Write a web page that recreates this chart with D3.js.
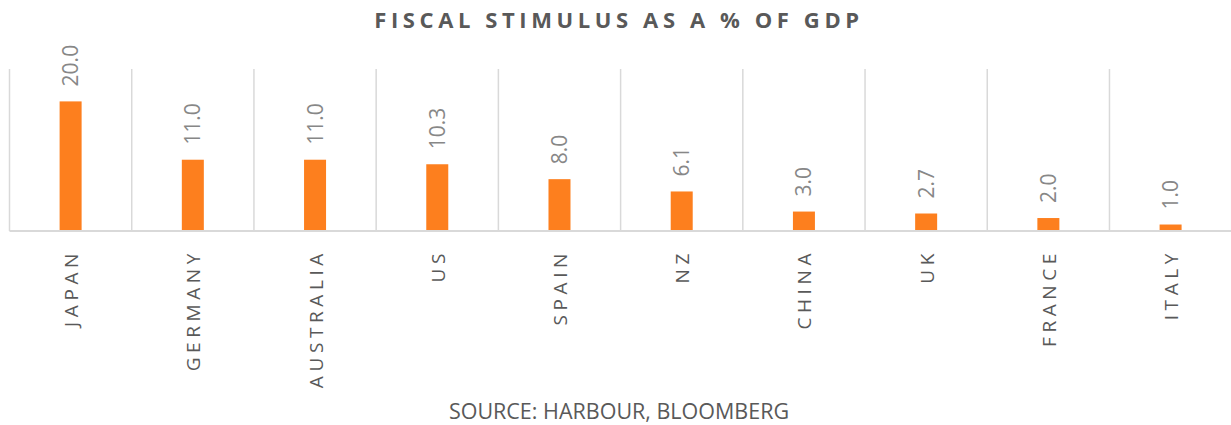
<!DOCTYPE html>
<html>
<head>
<meta charset="utf-8">
<script src="https://cdn.jsdelivr.net/npm/d3@7"></script>
<style>
  body { margin: 0; background: #fff; }
  svg { display: block; }
</style>
</head>
<body>
<svg id="chart"></svg>
<script>
// Chart data
const countries = ["JAPAN", "GERMANY", "AUSTRALIA", "US", "SPAIN", "NZ", "CHINA", "UK", "FRANCE", "ITALY"];
const stimulus = [20.0, 11.0, 11.0, 10.3, 8.0, 6.1, 3.0, 2.7, 2.0, 1.0];
const titleText = "FISCAL STIMULUS AS A % OF GDP";
const sourceText = "SOURCE: HARBOUR, BLOOMBERG";

const data = countries.map((c, i) => ({ country: c, value: stimulus[i] }));

// Set up SVG dimensions
const width = 1231;
const height = 425;
const plot = { left: 9.5, right: 1231.7, top: 69, bottom: 231 };

const svg = d3.select("#chart")
    .attr("width", width)
    .attr("height", height);

// X scale (countries)
const x = d3.scaleBand()
    .domain(countries)
    .range([plot.left, plot.right])
    .padding(0);

// Y scale (% of GDP)
const y = d3.scaleLinear()
    .domain([0, 25])
    .range([plot.bottom, plot.top]);

const barWidth = 22;

// Vertical gridlines between categories
const edges = countries.map(c => x(c)).concat([x.range()[1]]);
svg.append("g")
    .selectAll("line")
    .data(edges)
    .enter().append("line")
    .attr("x1", d => d)
    .attr("x2", d => d)
    .attr("y1", y(25))
    .attr("y2", y(0))
    .attr("stroke", "#d9d9d9")
    .attr("stroke-width", 1.5);

// Bars
svg.append("g")
    .selectAll("rect")
    .data(data)
    .enter().append("rect")
    .attr("x", d => x(d.country) + x.bandwidth() / 2 - barWidth / 2)
    .attr("y", d => y(d.value))
    .attr("width", barWidth)
    .attr("height", d => y(0) - y(d.value))
    .attr("fill", "#fd7f1e");

// Baseline (category axis)
const xAxis = svg.append("g")
    .attr("transform", "translate(0," + y(0) + ")")
    .call(d3.axisBottom(x).tickSize(0).tickPadding(0));
xAxis.select(".domain")
    .attr("d", "M" + x.range()[0] + ",0H" + width)
    .attr("stroke", "#d9d9d9")
    .attr("stroke-width", 2);
xAxis.selectAll(".tick text")
    .attr("transform", "translate(7.5,18) rotate(-90)")
    .attr("x", 0)
    .attr("y", 0)
    .attr("dy", 0)
    .attr("text-anchor", "end")
    .style("font-family", "'Open Sans', sans-serif")
    .style("font-size", "19px")
    .style("letter-spacing", "4.6px")
    .attr("fill", "#595959");

// Value labels
svg.append("g")
    .selectAll("text")
    .data(data)
    .enter().append("text")
    .attr("transform", d => "translate(" + (x(d.country) + x.bandwidth() / 2 + 7.5) + "," + (y(d.value) - 15) + ") rotate(-90)")
    .attr("text-anchor", "start")
    .style("font-family", "'Open Sans', sans-serif")
    .style("font-size", "21px")
    .attr("fill", "#878787")
    .text(d => d.value.toFixed(1));

// Title
svg.append("text")
    .attr("x", 619)
    .attr("y", 28)
    .attr("text-anchor", "middle")
    .style("font-family", "'Open Sans', sans-serif")
    .style("font-size", "22px")
    .style("font-weight", "bold")
    .style("letter-spacing", "4.6px")
    .attr("fill", "#595959")
    .text(titleText);

// Source note
svg.append("text")
    .attr("x", 619)
    .attr("y", 419)
    .attr("text-anchor", "middle")
    .style("font-family", "'Open Sans', sans-serif")
    .style("font-size", "21.5px")
    .attr("fill", "#595959")
    .text(sourceText);
</script>
</body>
</html>
